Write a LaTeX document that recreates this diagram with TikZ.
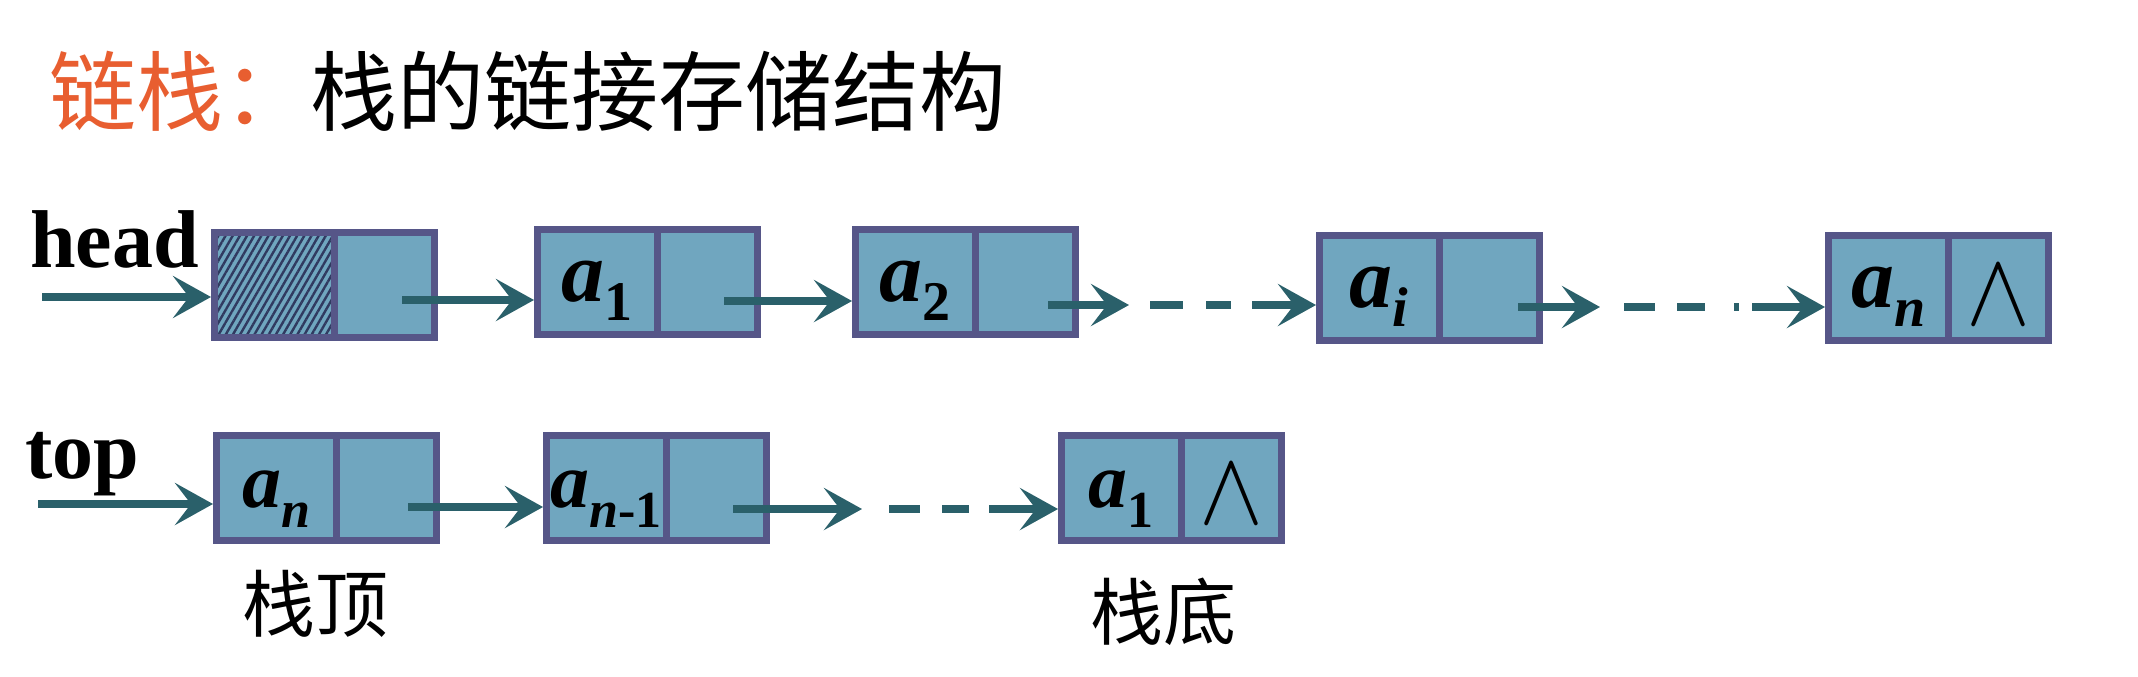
\documentclass[tikz,border=0pt]{standalone}
\usepackage{graphicx}
\usepackage{fontspec}
\setmainfont{Liberation Serif}
\newfontfamily\cjk{Noto Sans CJK SC}
\usetikzlibrary{arrows.meta,calc,patterns.meta}
\definecolor{boxfill}{RGB}{112,166,191}
\definecolor{boxline}{RGB}{86,86,136}
\definecolor{arrcol}{RGB}{42,96,106}
\definecolor{titleorange}{RGB}{232,94,48}
\definecolor{hatchcol}{RGB}{48,58,96}
% element label: a with subscript
\newcommand\elemA[3]{a\raisebox{-#1}{\fontsize{#2}{#2}\selectfont #3}}
\newcommand\nullsym{\resizebox{32pt}{29pt}{$\wedge$}}
% box: name, left outer x, centre y
\newcommand\listbox[3]{%
  \node[lcell] (#1) at (#2+63.25,#3) {};
  \node[rcell, anchor=west] (#1r) at (#1.east) {};}
\begin{document}
\begin{tikzpicture}[x=0.5pt,y=-0.5pt,
  cellbase/.style={draw=boxline, line width=3.5pt, inner sep=0pt, outer sep=0pt, minimum height=52.5pt},
  lcell/.style={cellbase, fill=boxfill, minimum width=59.75pt},
  rcell/.style={cellbase, fill=boxfill, minimum width=50.25pt},
  hatchcell/.style={cellbase, minimum width=59.75pt, preaction={fill=boxfill},
    pattern={Lines[angle=60,distance=3.1pt,line width=1.2pt]}, pattern color=hatchcol},
  labA/.style={font=\fontsize{43pt}{43pt}\selectfont\bfseries\itshape, inner sep=0pt, anchor=base},
  labB/.style={font=\fontsize{39pt}{39pt}\selectfont\bfseries\itshape, inner sep=0pt, anchor=base},
  nullmark/.style={inner sep=0pt},
  ptrlab/.style={font=\fontsize{41pt}{41pt}\selectfont\bfseries, inner sep=0pt, anchor=base west},
  cjklab/.style={font=\cjk\fontsize{36.5pt}{36.5pt}\selectfont, inner sep=0pt},
  arr/.style={draw=arrcol, line width=4pt, -{Stealth[length=19pt,width=21pt,inset=8pt]}},
  tobox/.style={arr, shorten >=1.75pt},
  dashline/.style={draw=arrcol, line width=4pt}
]
\path[use as bounding box, fill=white] (0,0) rectangle (2138,676);

% title
\node[anchor=base west, font=\cjk\fontsize{43.5pt}{43.5pt}\selectfont, inner sep=0pt] (title) at (49,124)
  {\textcolor{titleorange}{链栈：}栈的链接存储结构};

% ---------- row 1 : head ----------
\node[ptrlab] (headlab) at (30,267) {head};
\node[hatchcell] (H) at (211+63.25,285) {};
\node[rcell, anchor=west] (Hr) at (H.east) {};
\listbox{A1}{534}{282}
\listbox{A2}{852}{282}
\listbox{Ai}{1316}{288}
\listbox{An}{1825}{288}

\node[labA] (A1t) at ($(A1.center)+(0,19)$) {\elemA{9.5pt}{28pt}{\upshape 1}};
\node[labA] (A2t) at ($(A2.center)+(0,19)$) {\elemA{9.5pt}{28pt}{\upshape 2}};
\node[labA] (Ait) at ($(Ai.center)+(0,19)$) {\elemA{9.5pt}{28pt}{i}};
\node[labA] (Ant) at ($(An.center)+(0,19)$) {\elemA{9.5pt}{28pt}{n}};
\node[nullmark] (Annull) at ($(Anr.center)+(0,7)$) {\nullsym};

\coordinate (hin) at (42,297);
\draw[tobox] (hin) -- (hin -| H.west);
\coordinate (s1) at (402,300);
\draw[tobox] (s1) -- (s1 -| A1.west);
\coordinate (s2) at (724,301);
\draw[tobox] (s2) -- (s2 -| A2.west);
\coordinate (s3) at (1048,305); \coordinate (e3) at (1129,305);
\draw[arr] (s3) -- (e3);
\coordinate (d3a) at (1150,305); \coordinate (d3b) at (1231,305);
\draw[dashline, dash pattern=on 16.5pt off 11.5pt] (d3a) -- (d3b);
\coordinate (s3b) at (1252,305);
\draw[tobox] (s3b) -- (s3b -| Ai.west);
\coordinate (s4) at (1518,307); \coordinate (e4) at (1600,307);
\draw[arr] (s4) -- (e4);
\coordinate (d4a) at (1624,307); \coordinate (d4b) at (1739,307);
\draw[dashline, dash pattern=on 15.5pt off 11pt on 14pt off 14.5pt on 2.5pt off 20pt] (d4a) -- (d4b);
\coordinate (s4b) at (1752,307);
\draw[tobox] (s4b) -- (s4b -| An.west);

% ---------- row 2 : top ----------
\node[ptrlab] (toplab) at (25,478) {top};
\listbox{Bn}{213}{488}
\listbox{Bnm}{543}{488}
\listbox{Bone}{1058}{488}

\node[labB] (Bnt) at ($(Bn.center)+(0,19)$) {\elemA{10pt}{26pt}{n}};
\node[labB] (Bnmt) at ($(Bnm.center)+(0,19)$) {\elemA{10pt}{26pt}{n\upshape -1}};
\node[labB] (Bonet) at ($(Bone.center)+(0,19)$) {\elemA{10pt}{26pt}{\upshape 1}};
\node[nullmark] (Bonenull) at ($(Boner.center)+(0,6)$) {\nullsym};

\coordinate (tin) at (38,504);
\draw[tobox] (tin) -- (tin -| Bn.west);
\coordinate (s5) at (408,507);
\draw[tobox] (s5) -- (s5 -| Bnm.west);
\coordinate (s6) at (733,509); \coordinate (e6) at (862,509);
\draw[arr] (s6) -- (e6);
\coordinate (d6a) at (889,509); \coordinate (d6b) at (969,509);
\draw[dashline, dash pattern=on 15.5pt off 11pt] (d6a) -- (d6b);
\coordinate (s6b) at (989,509);
\draw[tobox] (s6b) -- (s6b -| Bone.west);

\node[cjklab] (toplabel) at (315,604) {栈顶};
\node[cjklab] (botlabel) at (1163,612) {栈底};
\end{tikzpicture}
\end{document}
